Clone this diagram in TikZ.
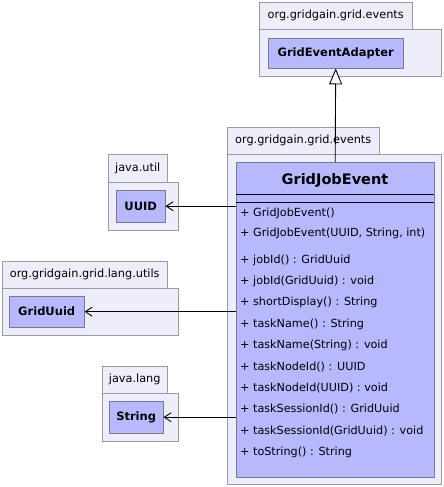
\documentclass[tikz,border=0pt]{standalone}
\usepackage{fontspec}
\setmainfont{DejaVu Sans}
\usetikzlibrary{arrows.meta}
\definecolor{pkgfill}{RGB}{238,238,251}
\definecolor{pkgline}{RGB}{153,153,170}
\definecolor{clsfill}{RGB}{184,184,255}
\definecolor{clsline}{RGB}{120,120,150}
\tikzset{
  pkg/.style={draw=pkgline, fill=pkgfill, anchor=north west, inner sep=0pt, font=\fontsize{11.3}{13}\selectfont},
  cls/.style={draw=clsline, fill=clsfill, anchor=north west, inner sep=0pt, font=\bfseries\fontsize{11.5}{13}\selectfont},
  op/.style={anchor=west, inner sep=0pt, font=\fontsize{11.2}{13}\selectfont},
  dep/.style={line width=0.9pt, -{Straight Barb[length=7pt,width=9pt]}},
  gen/.style={line width=0.9pt, -{Triangle[open,length=16pt,width=13pt,fill=white]}}
}
\begin{document}
\begin{tikzpicture}[x=1pt,y=-1pt]
				\useasboundingbox (0,0) rectangle (444,487);
				% packages
				\node[pkg, minimum width=182pt, minimum height=47pt] (evbodyA) at (259,29) {};
				\node[pkg, minimum width=153pt, minimum height=27pt] (evtabA) at (259,2) {org.gridgain.grid.events};
				\node[pkg, minimum width=214pt, minimum height=330pt] (evbodyB) at (227,154) {};
				\node[pkg, minimum width=152pt, minimum height=27pt] (evtabB) at (227,127) {org.gridgain.grid.events};
				\node[pkg, minimum width=70pt, minimum height=48pt] (utilbody) at (108,182) {};
				\node[pkg, minimum width=59pt, minimum height=28pt] (utiltab) at (108,154) {java.util};
				\node[pkg, minimum width=176pt, minimum height=47pt] (lubody) at (2,288) {};
				\node[pkg, minimum width=165pt, minimum height=27pt] (lutab) at (2,261) {org.gridgain.grid.lang.utils};
				\node[pkg, minimum width=76pt, minimum height=48pt] (langbody) at (102,393) {};
				\node[pkg, minimum width=65pt, minimum height=27pt] (langtab) at (102,366) {java.lang};
				%
				\node[cls, minimum width=135pt, minimum height=30pt] (adapter) at (268,38) {GridEventAdapter};
				\node[cls, minimum width=49pt, minimum height=32pt] (uuid) at (116,190) {UUID};
				\node[cls, minimum width=75pt, minimum height=31pt] (griduuid) at (9,296) {GridUuid};
				\node[cls, minimum width=54pt, minimum height=32pt] (string) at (109,401) {String};
				\node[cls, minimum width=198pt, minimum height=315pt] (jobevent) at (236,162) {};
				\node[font=\bfseries\fontsize{14.5}{17}\selectfont] (title) at (335,180) {GridJobEvent};
				\draw ([yshift=-32pt]jobevent.north west) -- ([yshift=-32pt]jobevent.north east);
				\draw ([yshift=-40pt]jobevent.north west) -- ([yshift=-40pt]jobevent.north east);
				%
				\foreach \y/\t [count=\i] in {213/{+ GridJobEvent()}, 233/{+ GridJobEvent(UUID, String, int)},
						260/{+ jobId() : GridUuid}, 281.3/{+ jobId(GridUuid) : void},
						302.6/{+ shortDisplay() : String}, 324/{+ taskName() : String},
						345.3/{+ taskName(String) : void}, 366.6/{+ taskNodeId() : UUID},
						388/{+ taskNodeId(UUID) : void}, 409.3/{+ taskSessionId() : GridUuid},
						430.6/{+ taskSessionId(GridUuid) : void}, 452/{+ toString() : String}}
				\node[op] (op\i) at (240,\y) {\t};
				%
				\draw[gen] (jobevent.north) -- (adapter.south);
				\foreach \c in {uuid,griduuid,string}
				\draw[dep] (\c.east -| jobevent.west) -- (\c.east);
			\end{tikzpicture}
\end{document}
